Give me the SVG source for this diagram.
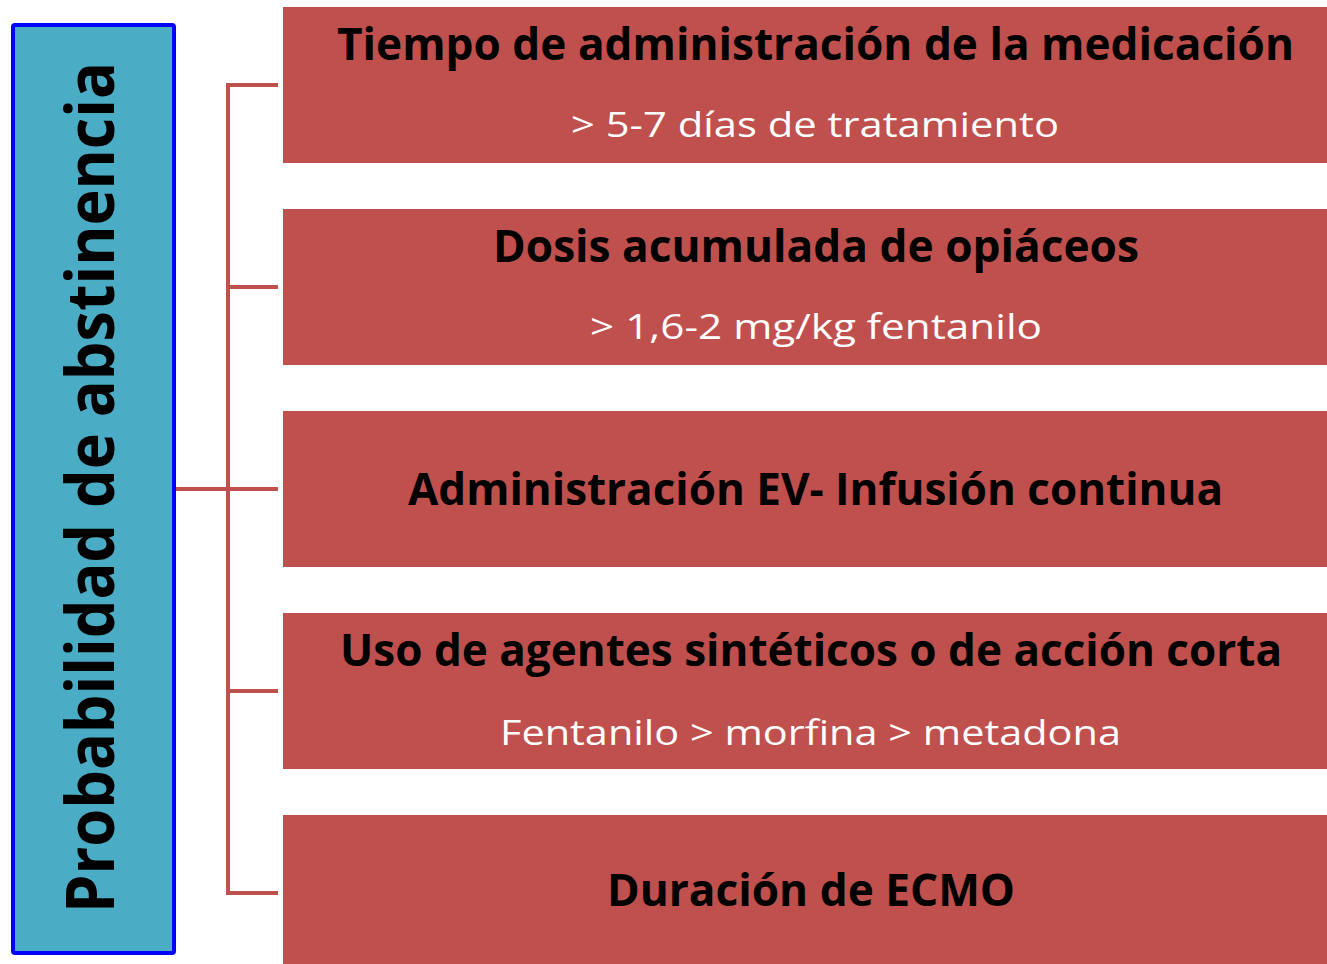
<svg xmlns="http://www.w3.org/2000/svg" width="1327" height="964" viewBox="0 0 1327 964">
<style>
.box{fill:#C0504D}
.t{font-family:"Open Sans","Liberation Sans",sans-serif;font-weight:bold;font-size:44px;fill:#000;text-anchor:middle}
.s{font-family:"Open Sans","Liberation Sans",sans-serif;font-size:35px;fill:#fff;text-anchor:middle}
.con{stroke:#C0504D;stroke-width:4;fill:none}
</style>
<rect width="1327" height="964" fill="#fff"/>
<g id="connectors">
<path class="con" d="M278,85 H228 V893 H278 M228,287 H278 M228,691 H278 M176,489 H278"/>
</g>
<g id="main">
<rect x="13" y="25" width="161" height="928" fill="#4BACC6" stroke="#0000FF" stroke-width="4" rx="2"/>
<text class="t" transform="translate(114,487.5) rotate(-90)" style="font-size:66px" textLength="851" lengthAdjust="spacingAndGlyphs">Probabilidad de abstinencia</text>
</g>
<g id="n1">
<rect class="box" x="283" y="7" width="1044" height="156"/>
<text class="t" x="815.5" y="60" textLength="957" lengthAdjust="spacingAndGlyphs">Tiempo de administración de la medicación</text>
<text class="s" x="815" y="137" textLength="488" lengthAdjust="spacingAndGlyphs">&gt; 5-7 días de tratamiento</text>
</g>
<g id="n2">
<rect class="box" x="283" y="209" width="1044" height="156"/>
<text class="t" x="816" y="262" textLength="646" lengthAdjust="spacingAndGlyphs">Dosis acumulada de opiáceos</text>
<text class="s" x="816" y="339" textLength="452" lengthAdjust="spacingAndGlyphs">&gt; 1,6-2 mg/kg fentanilo</text>
</g>
<g id="n3">
<rect class="box" x="283" y="411" width="1044" height="156"/>
<text class="t" x="815.5" y="505" textLength="815" lengthAdjust="spacingAndGlyphs">Administración EV- Infusión continua</text>
</g>
<g id="n4">
<rect class="box" x="283" y="613" width="1044" height="156"/>
<text class="t" x="811" y="666" textLength="942" lengthAdjust="spacingAndGlyphs">Uso de agentes sintéticos o de acción corta</text>
<text class="s" x="810.5" y="745" textLength="621" lengthAdjust="spacingAndGlyphs">Fentanilo &gt; morfina &gt; metadona</text>
</g>
<g id="n5">
<rect class="box" x="283" y="815" width="1044" height="156"/>
<text class="t" x="811" y="906" textLength="408" lengthAdjust="spacingAndGlyphs">Duración de ECMO</text>
</g>
</svg>
